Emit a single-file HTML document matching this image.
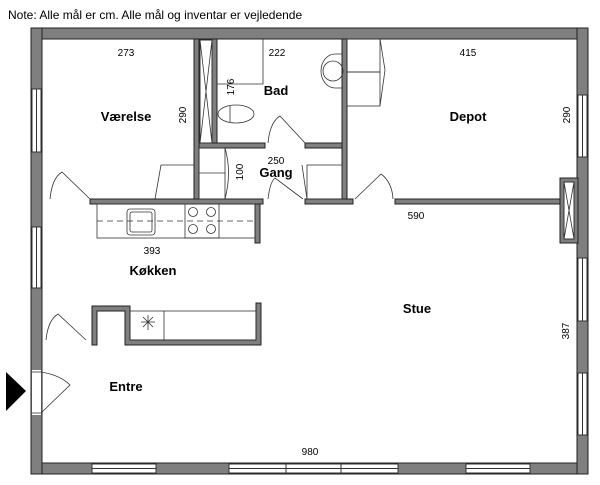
<!DOCTYPE html>
<html><head><style>
html,body{margin:0;padding:0;background:#fff;}
svg{display:block;}
text{font-family:"Liberation Sans",sans-serif;fill:#000;}
</style></head><body>
<svg width="600" height="485" viewBox="0 0 600 485" xmlns="http://www.w3.org/2000/svg">
<text x="8" y="19" font-size="12">Note: Alle mål er cm. Alle mål og inventar er vejledende</text>
<g fill="#7f7f7f" stroke="#222" stroke-width="1">
<rect x="31" y="28" width="557" height="11"/>
<rect x="31" y="463" width="557" height="11"/>
<rect x="31" y="28" width="11" height="446"/>
<rect x="577" y="28" width="11" height="446"/>
<rect x="194" y="39" width="5" height="165"/>
<rect x="212" y="39" width="5" height="106"/>
<rect x="199" y="143" width="66" height="5"/>
<rect x="305" y="143" width="37" height="5"/>
<rect x="342" y="39" width="5" height="165"/>
<rect x="90" y="199" width="173" height="5"/>
<rect x="255" y="204" width="5" height="39"/>
<rect x="305" y="199" width="48" height="5"/>
<rect x="395" y="199" width="167" height="5"/>
<rect x="560" y="178" width="18" height="65"/>
<path d="M92 306 H130 V340 H256 V303 H261 V345 H125 V311 H97 V345 H92 Z"/>
</g>
<g fill="#fff" stroke="#333" stroke-width="1">
<rect x="32" y="89" width="9" height="63"/><line x1="36.5" y1="89" x2="36.5" y2="152"/>
<rect x="32" y="227" width="9" height="61"/><line x1="36.5" y1="227" x2="36.5" y2="288"/>
<rect x="578" y="95" width="9" height="62"/><line x1="582.5" y1="95" x2="582.5" y2="157"/>
<rect x="578" y="258" width="9" height="63"/><line x1="582.5" y1="258" x2="582.5" y2="321"/>
<rect x="578" y="373" width="9" height="62"/><line x1="582.5" y1="373" x2="582.5" y2="435"/>
<rect x="92" y="464" width="64" height="9"/><line x1="92" y1="468.5" x2="156" y2="468.5"/>
<rect x="229" y="464" width="169" height="9"/><line x1="229" y1="468.5" x2="398" y2="468.5"/>
<line x1="286" y1="464" x2="286" y2="473"/><line x1="341" y1="464" x2="341" y2="473"/>
<rect x="466" y="464" width="64" height="9"/><line x1="466" y1="468.5" x2="530" y2="468.5"/>
<rect x="32" y="370" width="9" height="45" stroke="none"/>
<rect x="200" y="40" width="12" height="103"/>
<rect x="564" y="182" width="10" height="57"/>
</g>
<g fill="none" stroke="#333" stroke-width="0.8">
<path d="M200 40 L212 143 M212 40 L200 143"/>
<path d="M564 182 L574 239 M574 182 L564 239"/>
<line x1="32" y1="372" x2="41" y2="372"/><line x1="32" y1="413" x2="41" y2="413"/>
<path d="M41 372 Q60 375 70 385 L41 413"/>
<path d="M50 199 Q52 178 62 172 L90 199"/>
<path d="M46 340 Q48 320 58 314 L86 340"/>
<path d="M268 143 Q270 122 280 116 L305 143"/>
<path d="M268 199 Q270 182 275 178 L303 199"/>
<path d="M355 199 L381 174 Q392 182 393 199"/>
<path d="M155 199 L161 165 H194"/>
<rect x="199" y="148" width="26" height="51"/><line x1="199" y1="173" x2="225" y2="173"/>
<path d="M225 148 Q232 172 225 199"/>
<path d="M217 84 H263 V39"/>
<ellipse cx="236" cy="114" rx="18" ry="9"/><line x1="230" y1="106" x2="230" y2="122"/>
<path d="M342 54 H335 A14 17 0 0 0 335 88 H342"/><circle cx="333" cy="71" r="10"/>
<rect x="347" y="39" width="33" height="33"/><rect x="347" y="72" width="33" height="34"/>
<path d="M380 39 L385 70 L380 106"/>
<rect x="307" y="165" width="35" height="34"/>
<path d="M302 165 L307 199"/>
<rect x="97" y="204" width="158" height="34"/>
<line x1="97" y1="221" x2="255" y2="221" stroke-dasharray="6,4"/>
<rect x="127" y="209" width="28" height="26" rx="3"/><rect x="130" y="212" width="22" height="20" rx="2"/>
<rect x="185" y="204" width="34" height="34"/>
<circle cx="193" cy="212" r="4.5"/><circle cx="211" cy="212" r="4.5"/>
<circle cx="193" cy="229" r="4.5"/><circle cx="211" cy="229" r="4.5"/>
<rect x="130" y="311" width="126" height="29"/><line x1="164" y1="311" x2="164" y2="340"/>
<path d="M141 322 H155 M148 315 V330 M143 317 L153 327 M153 317 L143 327"/>
</g>
<polygon points="6,372 26,391 6,411" fill="#000"/>
<g font-size="10" text-anchor="middle">
<text x="126" y="56">273</text><text x="277" y="56">222</text><text x="468" y="56">415</text>
<text x="276" y="164">250</text><text x="416" y="219">590</text><text x="152" y="254">393</text><text x="310" y="455">980</text>
<text transform="translate(186,115) rotate(-90)">290</text>
<text transform="translate(234,87) rotate(-90)">176</text>
<text transform="translate(243,172) rotate(-90)">100</text>
<text transform="translate(570,115) rotate(-90)">290</text>
<text transform="translate(569,331) rotate(-90)">387</text>
</g>
<g font-size="13" font-weight="bold" text-anchor="middle">
<text x="126" y="121">Værelse</text><text x="276" y="95">Bad</text><text x="276" y="177">Gang</text>
<text x="468" y="121">Depot</text><text x="153" y="275">Køkken</text><text x="417" y="313">Stue</text>
<text x="126" y="391">Entre</text>
</g>
</svg>
</body></html>
